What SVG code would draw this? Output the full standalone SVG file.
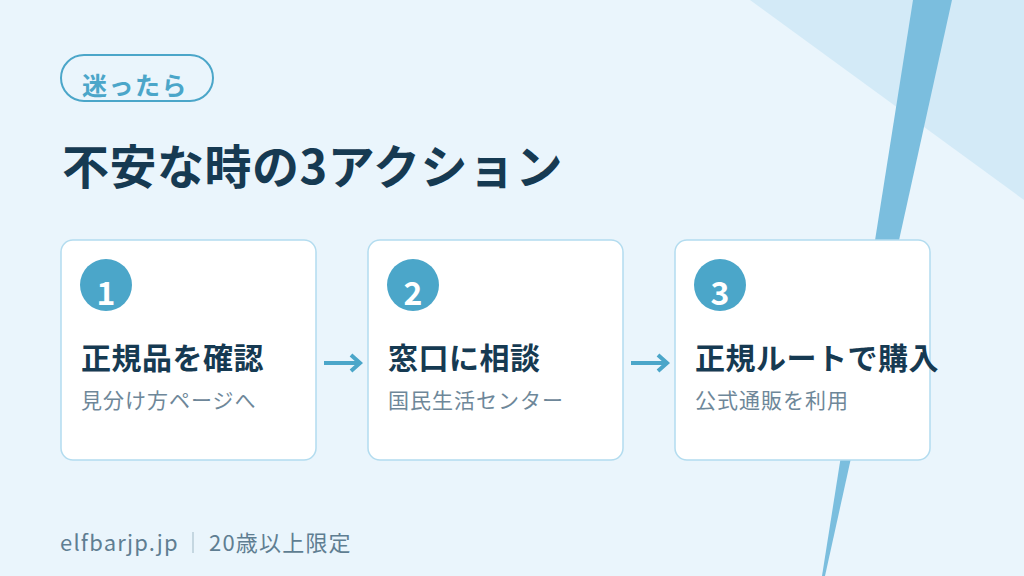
<svg xmlns="http://www.w3.org/2000/svg" width="1024" height="576" viewBox="0 0 1024 576">
<defs>
<style>
.t{font-family:"Noto Sans CJK JP","Noto Sans",sans-serif;}
.card{fill:#FFFFFF;stroke:#B3DCEF;stroke-width:1.5;}
.num{fill:#4BA6C9;}
.numt{fill:#FFFFFF;font-size:32px;font-weight:700;text-anchor:middle;}
.head{fill:#163A52;font-size:30px;font-weight:700;letter-spacing:0.5px;}
.sub{fill:#6E8799;font-size:21px;letter-spacing:1px;}
.conn{stroke:#4BA6C9;stroke-width:4;fill:none;stroke-linecap:butt;stroke-linejoin:miter;}
.foot{fill:#5F7E92;font-size:22px;letter-spacing:1.2px;}
</style>
</defs>
<rect width="1024" height="576" fill="#EAF5FC"/>
<polygon points="750,0 1024,0 1024,200" fill="#D3EAF7"/>
<polygon points="913,0 952,0 825,576 822,576" fill="#7BBEDE"/>

<g id="tag">
<rect x="61" y="55" width="152" height="46" rx="23" fill="none" stroke="#4BA6C9" stroke-width="2"/>
<text class="t" x="82" y="95" font-size="25" font-weight="700" letter-spacing="1.5" fill="#4BA6C9">迷ったら</text>
</g>
<g id="title">
<text class="t" x="62" y="184" font-size="47" font-weight="700" letter-spacing="0.5" fill="#163A52">不安な時の3アクション</text>
</g>

<g id="card1">
<rect class="card" x="61" y="240" width="255" height="220" rx="12"/>
<circle class="num" cx="106" cy="285" r="26"/>
<text class="t numt" x="106" y="305">1</text>
<text class="t head" x="81" y="369">正規品を確認</text>
<text class="t sub" x="81" y="408">見分け方ページへ</text>
</g>
<g id="card2">
<rect class="card" x="368" y="240" width="255" height="220" rx="12"/>
<circle class="num" cx="413" cy="285" r="26"/>
<text class="t numt" x="413" y="305">2</text>
<text class="t head" x="388" y="369">窓口に相談</text>
<text class="t sub" x="388" y="408">国民生活センター</text>
</g>
<g id="card3">
<rect class="card" x="675" y="240" width="255" height="220" rx="12"/>
<circle class="num" cx="720" cy="285" r="26"/>
<text class="t numt" x="720" y="305">3</text>
<text class="t head" x="695" y="369">正規ルートで購入</text>
<text class="t sub" x="695" y="408">公式通販を利用</text>
</g>

<g id="connectors">
<path class="conn" d="M324,363 H360 M351,355 L360,363 L351,371"/>
<path class="conn" d="M631,363 H667 M658,355 L667,363 L658,371"/>
</g>

<g id="footer">
<text class="t foot" x="60" y="551">elfbarjp.jp</text>
<line x1="193" y1="532" x2="193" y2="553" stroke="#B8CCD8" stroke-width="1.5"/>
<text class="t foot" x="209" y="551">20歳以上限定</text>
</g>
</svg>
